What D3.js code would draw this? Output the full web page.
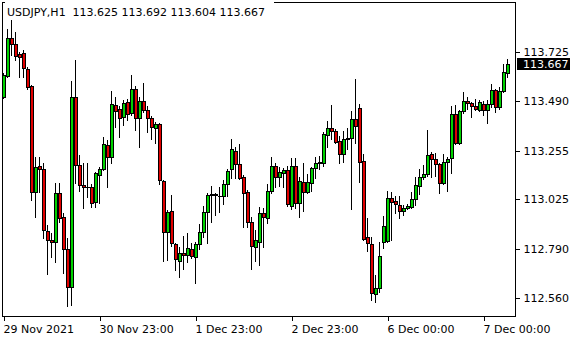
<!DOCTYPE html>
<html>
<head>
<meta charset="utf-8">
<script src="https://cdn.jsdelivr.net/npm/d3@7"></script>
<style>
  body { margin: 0; background: #fff; }
  svg { display: block; font-family: "DejaVu Sans", sans-serif; font-size: 11px; }
</style>
</head>
<body>
<div id="chart"></div>
<script>
// USDJPY H1 bars
var open = [113.510,113.610,113.789,113.761,113.713,113.718,113.643,113.562,113.060,113.183,
  113.169,112.875,112.833,112.823,113.055,112.941,112.790,112.610,113.510,113.188,
  113.093,113.086,113.086,113.013,113.141,113.169,113.282,113.225,113.472,113.453,
  113.415,113.486,113.434,113.548,113.410,113.491,113.448,113.410,113.363,113.382,
  113.112,112.871,112.970,112.814,112.733,112.771,112.762,112.790,112.752,112.814,
  112.871,112.965,113.051,113.049,113.043,113.041,113.098,113.169,113.254,113.192,
  113.131,113.060,112.918,112.799,112.823,112.960,112.937,113.065,113.183,113.131,
  113.150,113.164,112.994,113.183,113.008,113.107,113.060,113.103,113.174,113.197,
  113.197,113.330,113.363,113.349,113.301,113.240,113.313,113.316,113.406,113.458,
  113.207,112.847,112.814,112.577,112.606,112.823,112.828,113.032,113.017,112.998,
  112.970,112.984,112.989,113.027,113.088,113.131,113.145,113.240,113.216,113.192,
  113.103,113.202,113.221,113.429,113.292,113.444,113.491,113.481,113.467,113.448,
  113.477,113.448,113.477,113.543,113.462,113.538,113.625];
var high = [113.624,113.832,113.874,113.818,113.723,113.732,113.652,113.567,113.225,113.225,
  113.197,112.904,112.866,113.103,113.103,112.960,112.842,113.586,113.685,113.235,
  113.197,113.197,113.098,113.155,113.178,113.320,113.306,113.538,113.510,113.467,
  113.496,113.500,113.614,113.562,113.510,113.576,113.467,113.420,113.391,113.387,
  113.117,112.975,113.046,112.818,112.799,112.852,112.866,112.818,112.823,112.908,
  112.994,113.055,113.088,113.055,113.084,113.117,113.169,113.311,113.273,113.287,
  113.141,113.069,112.941,112.880,112.989,112.984,113.098,113.225,113.197,113.178,
  113.174,113.183,113.221,113.221,113.131,113.197,113.145,113.178,113.225,113.230,
  113.344,113.396,113.472,113.358,113.325,113.349,113.363,113.444,113.595,113.477,
  113.240,112.937,112.847,112.667,112.823,112.946,113.065,113.060,113.041,113.041,
  112.998,113.003,113.060,113.131,113.169,113.188,113.353,113.249,113.245,113.197,
  113.240,113.225,113.467,113.472,113.448,113.534,113.510,113.486,113.500,113.496,
  113.491,113.496,113.571,113.548,113.557,113.666,113.692];
var low = [113.505,113.605,113.708,113.685,113.605,113.605,113.548,113.022,112.941,113.060,
  112.842,112.672,112.752,112.729,112.918,112.677,112.520,112.525,113.103,113.065,
  112.984,113.036,112.989,112.989,113.008,113.164,113.084,113.197,113.368,113.320,
  113.377,113.401,113.425,113.353,113.273,113.439,113.344,113.311,113.292,113.098,
  112.733,112.738,112.804,112.691,112.658,112.696,112.729,112.748,112.629,112.790,
  112.847,112.818,112.918,112.951,112.965,113.003,113.041,113.126,113.126,113.122,
  112.894,112.894,112.696,112.733,112.714,112.799,112.913,113.055,113.084,113.088,
  113.084,112.994,112.979,112.984,112.941,112.970,113.055,113.065,113.126,113.169,
  113.183,113.273,113.311,113.292,113.197,113.202,113.263,112.979,113.292,113.107,
  112.833,112.781,112.549,112.539,112.587,112.795,112.823,112.833,112.960,112.937,
  112.951,112.979,112.984,112.998,113.051,113.122,113.136,113.131,113.136,113.055,
  113.098,113.065,113.150,113.287,113.287,113.434,113.453,113.415,113.448,113.444,
  113.425,113.387,113.462,113.439,113.453,113.534,113.604];
var close = [113.614,113.789,113.761,113.704,113.699,113.647,113.557,113.060,113.178,113.169,
  112.880,112.833,112.823,113.055,112.937,112.790,112.610,113.510,113.188,113.093,
  113.086,113.084,113.008,113.150,113.169,113.287,113.225,113.477,113.444,113.410,
  113.481,113.429,113.548,113.410,113.491,113.448,113.410,113.368,113.382,113.117,
  112.871,112.965,112.818,112.743,112.771,112.762,112.795,112.757,112.814,112.871,
  112.965,113.046,113.048,113.048,113.041,113.098,113.159,113.263,113.192,113.126,
  113.055,112.918,112.804,112.833,112.960,112.941,113.065,113.183,113.131,113.155,
  113.164,113.003,113.183,113.008,113.112,113.060,113.107,113.174,113.197,113.202,
  113.334,113.363,113.349,113.297,113.240,113.311,113.318,113.406,113.372,113.202,
  112.838,112.818,112.582,112.606,112.757,112.899,113.032,113.013,113.003,112.970,
  112.984,112.994,113.027,113.093,113.131,113.145,113.235,113.216,113.192,113.103,
  113.202,113.216,113.429,113.292,113.444,113.491,113.481,113.467,113.453,113.486,
  113.448,113.477,113.543,113.462,113.538,113.628,113.667];

// time axis: bar index of each label
var timeIdx = [0, 24, 48, 72, 96, 120];
var timeLabels = ["29 Nov 2021", "30 Nov 23:00", "1 Dec 23:00", "2 Dec 23:00", "6 Dec 00:00", "7 Dec 00:00"];
var priceTicks = [113.725, 113.490, 113.255, 113.025, 112.790, 112.560];
var symbol = "USDJPY,H1";

var W = 580, H = 340;
var frame = {left: 2.5, top: 2.5, right: 515.5, bottom: 316.5};

var x = d3.scaleLinear().domain([0, 126]).range([3.5, 507.5]);
var y = d3.scaleLinear().domain([112.473, 113.969]).range([316, 0]);

var bull = "#00d200", bear = "#e00000";

var svg = d3.select("#chart").append("svg")
    .attr("width", W)
    .attr("height", H);

// frame
svg.append("rect")
    .attr("x", frame.left).attr("y", frame.top)
    .attr("width", frame.right - frame.left)
    .attr("height", frame.bottom - frame.top)
    .attr("fill", "none").attr("stroke", "#000")
    .attr("shape-rendering", "crispEdges");

// title sits on a white patch over the top border
svg.append("rect")
    .attr("x", 5).attr("y", 0).attr("width", 269).attr("height", 19)
    .attr("fill", "#fff");
svg.append("text")
    .attr("x", 7).attr("y", 16)
    .style("white-space", "pre")
    .attr("fill", "#000")
    .text(symbol + "  " + [open[126], high[126], low[126], close[126]].map(d3.format(".3f")).join(" "));

var bars = d3.range(open.length);
var g = svg.append("g").attr("shape-rendering", "crispEdges");

// wicks
g.selectAll("line.wick").data(bars).enter().append("line")
    .attr("class", "wick")
    .attr("x1", i => x(i)).attr("x2", i => x(i))
    .attr("y1", i => Math.round(y(high[i])))
    .attr("y2", i => Math.round(y(low[i])) + 1)
    .attr("stroke", "#000");

// bodies: black box (4px) with a 2px coloured core
function bodyTop(i) { return Math.round(y(Math.max(open[i], close[i]))); }
function bodyBot(i) { return Math.round(y(Math.min(open[i], close[i]))); }

g.selectAll("rect.body").data(bars).enter().append("rect")
    .attr("class", "body")
    .attr("x", i => x(i) - 1.5)
    .attr("y", i => bodyTop(i))
    .attr("width", 4)
    .attr("height", i => Math.max(1, bodyBot(i) - bodyTop(i) + 1))
    .attr("fill", "#000");

g.selectAll("rect.core").data(bars.filter(i => bodyBot(i) - bodyTop(i) >= 2)).enter().append("rect")
    .attr("class", "core")
    .attr("x", i => x(i) - 0.5)
    .attr("y", i => bodyTop(i) + 1)
    .attr("width", 2)
    .attr("height", i => bodyBot(i) - bodyTop(i) - 1)
    .attr("fill", i => close[i] >= open[i] ? bull : bear);

// price axis
var yAxis = svg.append("g")
    .attr("transform", "translate(" + frame.right + ",0)")
    .call(d3.axisRight(y).tickValues(priceTicks).tickSize(4).tickPadding(4)
        .tickFormat(d3.format(".3f")));
yAxis.select(".domain").remove();
yAxis.selectAll("text").attr("font-family", "DejaVu Sans").attr("font-size", 11).attr("fill", "#000");
yAxis.selectAll("line").attr("shape-rendering", "crispEdges");

// time axis
var xAxis = svg.append("g")
    .attr("transform", "translate(0," + frame.bottom + ")")
    .call(d3.axisBottom(x).tickValues(timeIdx).tickSize(4).tickPadding(5)
        .tickFormat((d, k) => timeLabels[k]));
xAxis.select(".domain").remove();
xAxis.selectAll("text").attr("text-anchor", "start").attr("dx", -0.5)
    .attr("font-family", "DejaVu Sans").attr("font-size", 11).attr("fill", "#000");
xAxis.selectAll("line").attr("shape-rendering", "crispEdges");

// last price tag
var last = close[close.length - 1];
var ly = y(last);
svg.append("rect")
    .attr("x", 517).attr("y", Math.round(ly) - 6)
    .attr("width", 53).attr("height", 12)
    .attr("fill", "#000");
svg.append("text")
    .attr("x", 523).attr("y", ly)
    .attr("dy", "0.35em")
    .attr("fill", "#fff")
    .text(d3.format(".3f")(last));
</script>
</body>
</html>
